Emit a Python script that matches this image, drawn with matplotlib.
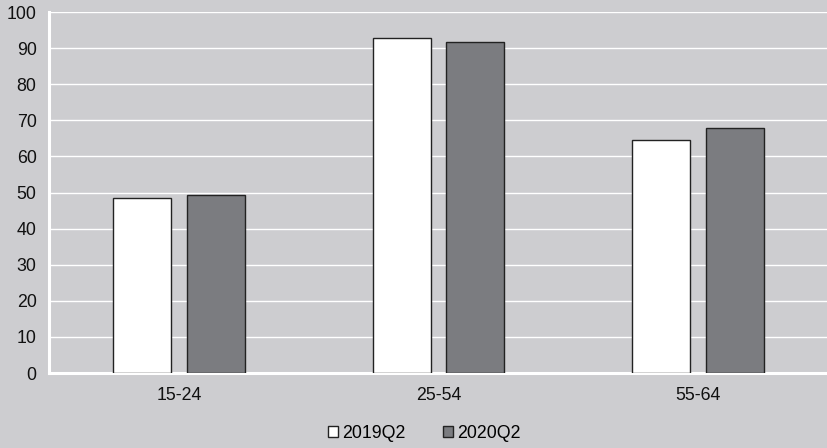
import matplotlib
matplotlib.use("Agg")
import matplotlib.pyplot as plt
import numpy as np

categories = ["15-24", "25-54", "55-64"]
series_names = ["2019Q2", "2020Q2"]
values_2019 = [48.6, 92.7, 64.5]
values_2020 = [49.3, 91.7, 68.0]
yticks = [0, 10, 20, 30, 40, 50, 60, 70, 80, 90, 100]

bg = "#cdcdd0"
plt.rcParams["font.family"] = ["Liberation Sans", "DejaVu Sans"]

fig = plt.figure(figsize=(8.28, 4.48), dpi=100, facecolor=bg)
ax = fig.add_axes([0.0592, 0.1674, 0.9408, 0.8058], facecolor=bg)

x = np.arange(len(categories))
w = 0.223
off = 0.142
ax.bar(x - off, values_2019, w, color="white", edgecolor="#222222", linewidth=1.0, label=series_names[0], zorder=3)
ax.bar(x + off, values_2020, w, color="#7b7c80", edgecolor="#222222", linewidth=1.0, label=series_names[1], zorder=3)

ax.set_xlim(-0.5, len(categories) - 0.5)
ax.set_ylim(0, 100)
ax.set_yticks(yticks)
ax.set_xticks(x)
ax.set_xticklabels(categories)
ax.yaxis.grid(True, color="white", linewidth=1.0, zorder=0)
ax.set_axisbelow(True)
for s in ["top", "right"]:
    ax.spines[s].set_visible(False)
for s in ["left", "bottom"]:
    ax.spines[s].set_color("white")
    ax.spines[s].set_linewidth(2.2)
ax.tick_params(axis="both", length=0, labelsize=12.8, colors="#111111")
ax.tick_params(axis="x", pad=10)
ax.tick_params(axis="y", pad=9)

leg = fig.legend(loc="center", bbox_to_anchor=(0.512, 0.033), ncol=2, frameon=False,
                 fontsize=12.8, handlelength=0.6, handleheight=0.6, handletextpad=0.2,
                 columnspacing=2.1)
fig.savefig("out.png", dpi=100, facecolor=bg)
